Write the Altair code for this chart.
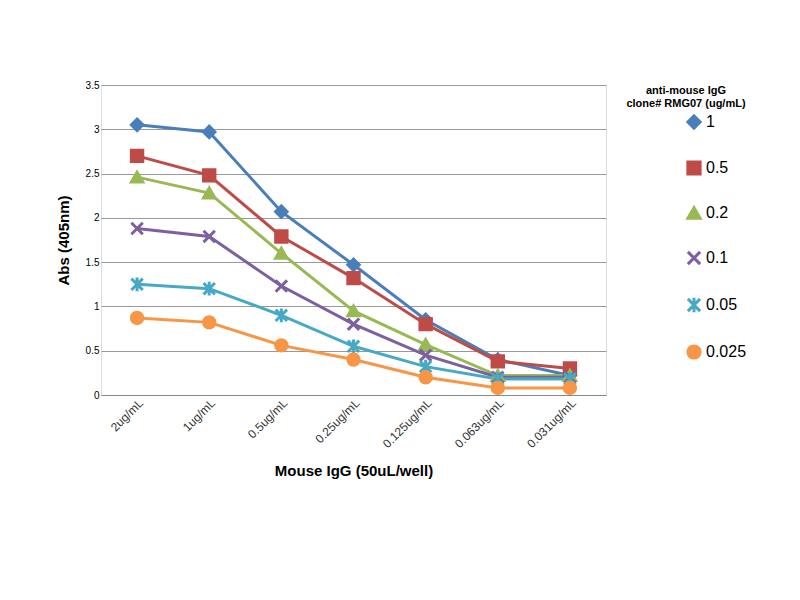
import altair as alt
import pandas as pd

doses = ["2ug/mL", "1ug/mL", "0.5ug/mL", "0.25ug/mL", "0.125ug/mL", "0.063ug/mL", "0.031ug/mL"]
series = ["1", "0.5", "0.2", "0.1", "0.05", "0.025"]
values = {
    "1": [3.05, 2.97, 2.07, 1.47, 0.85, 0.40, 0.22],
    "0.5": [2.70, 2.48, 1.79, 1.32, 0.80, 0.38, 0.30],
    "0.2": [2.46, 2.28, 1.60, 0.95, 0.57, 0.22, 0.22],
    "0.1": [1.88, 1.79, 1.23, 0.80, 0.45, 0.20, 0.20],
    "0.05": [1.25, 1.20, 0.90, 0.55, 0.32, 0.18, 0.18],
    "0.025": [0.87, 0.82, 0.56, 0.40, 0.20, 0.08, 0.08],
}
colors = ["#4a7ebb", "#be4b48", "#98b954", "#7d60a0", "#46aac5", "#f79646"]
shapes = [
    "diamond",
    "square",
    "triangle-up",
    "M-1,-1L1,1M-1,1L1,-1",
    "M-1,-1L1,1M-1,1L1,-1M0,-1.2L0,1.2",
    "circle",
]

rows = []
for s in series:
    for d, v in zip(doses, values[s]):
        rows.append({"Dose": d, "Conc": s, "Abs": v})
df = pd.DataFrame(rows)

x = alt.X("Dose:N", sort=doses, title="Mouse IgG (50uL/well)",
          axis=alt.Axis(labelAngle=-45, labelFontSize=12, titleFontSize=15,
                        titleFontWeight="bold", titlePadding=14, ticks=False,
                        domainColor="#888", labelColor="#333"))
y = alt.Y("Abs:Q", title="Abs (405nm)", scale=alt.Scale(domain=[0, 3.5]),
          axis=alt.Axis(values=[0, 0.5, 1, 1.5, 2, 2.5, 3, 3.5], format="~g",
                        labelFontSize=10, titleFontSize=15, titleFontWeight="bold",
                        gridColor="#999", domain=False, ticks=False, titlePadding=14))
color = alt.Color("Conc:N", sort=series, scale=alt.Scale(domain=series, range=colors),
                  legend=alt.Legend(title=["anti-mouse IgG", "clone# RMG07 (ug/mL)"],
                                    titleFontSize=11, titleAlign="center",
                                    labelFontSize=16, symbolSize=150, rowPadding=20,
                                    symbolStrokeWidth=3, symbolOpacity=1, offset=20))
shape = alt.Shape("Conc:N", sort=series, scale=alt.Scale(domain=series, range=shapes),
                  legend=None)
paint = alt.Color("Conc:N", sort=series, scale=alt.Scale(domain=series, range=colors),
                  legend=None)

base = alt.Chart(df)
lines = base.mark_line(strokeWidth=3).encode(x=x, y=y, color=color)
points = base.mark_point(filled=True, size=130, strokeWidth=3, opacity=1).encode(
    x=x, y=y, color=color, shape=shape, fill=paint, stroke=paint)

chart = (
    alt.layer(lines, points)
    .properties(width=505, height=310, padding={"left": 48, "top": 72, "right": 10, "bottom": 10})
    .configure_view(stroke=None)
    .configure(font="Liberation Sans")
)
chart.save("out.html", embed_options={"renderer": "svg", "actions": False})
